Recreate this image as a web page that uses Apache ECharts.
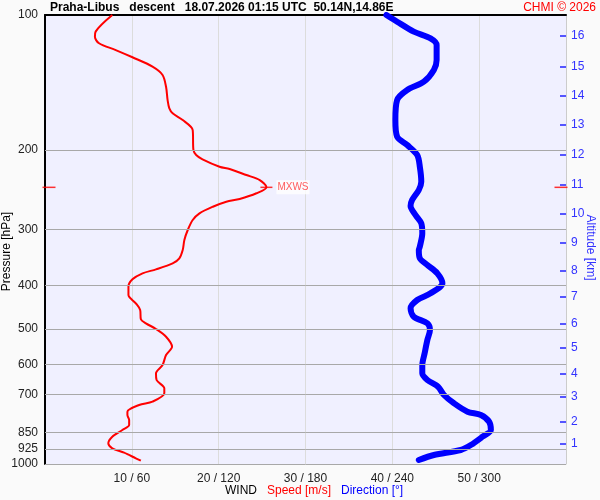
<!DOCTYPE html>
<html>
<head>
<meta charset="utf-8">
<script src="https://cdn.jsdelivr.net/npm/echarts@6/dist/echarts.min.js"></script>
<style>
html,body{margin:0;padding:0;background:#fafafa}
#chart{width:600px;height:500px}
</style>
</head>
<body>
<div id="chart"></div>
<script>
// pressure axis (hPa)
var pressureLabels = [100, 200, 300, 400, 500, 600, 700, 850, 925, 1000];
var pressureGrid = [200, 300, 400, 500, 600, 700, 850, 925, 1000];
// altitude ticks on the right: km and the pressure they sit at
var altitudeKm = [1, 2, 3, 4, 5, 6, 7, 8, 9, 10, 11, 12, 13, 14, 15, 16];
var altitudeP = [899.3, 803.4, 708.1, 628.1, 551.5, 486.0, 424.1, 371.1, 320.8, 277.5, 238.3, 205.0, 175.8, 151.5, 130.1, 111.2];
// wind speed [m/s] vs pressure [hPa]
var speedProfile = [
    [7.75,100],[5.83,108.9],[5.75,111.8],[6.22,115.6],[8.15,119.7],[10.07,124.2],[12.38,130.3],
    [13.54,136.0],[13.94,144.5],[14.12,154.7],[14.32,161.4],[14.70,165.5],[15.86,171.4],[17.01,180.4],
    [17.09,199.8],[17.41,205.0],[18.14,209.6],[20.10,217.7],[21.26,220.3],[23.19,227.2],[24.73,233.1],
    [25.51,241.9],[24.35,249.5],[22.42,256.9],[20.88,260.5],[19.33,267.3],[17.79,276.5],[17.01,286.2],
    [16.44,301.2],[16.05,317.0],[15.86,333.7],[15.47,348.2],[14.70,357.3],[12.78,368.5],[11.23,376.1],
    [10.07,387.9],[9.61,402.9],[9.61,420.4],[10.46,438.7],[10.96,453.9],[11.04,476.1],[11.62,486.0],
    [12.78,500.4],[13.94,520.6],[14.63,548.0],[13.94,571.8],[13.54,601.9],[12.78,628.0],[12.85,650.0],
    [13.74,678.3],[13.74,695.8],[12.38,726.4],[10.84,738.9],[9.49,764.7],[9.49,777.8],[9.69,798.0],
    [9.69,818.7],[8.91,840.1],[7.75,869.4],[7.29,899.3],[7.75,922.6],[9.11,943.6],[10.46,971.2],[11.04,983.3]
];
// wind direction [deg] vs pressure [hPa]
var directionProfile = [
    [235.9,100],[243.3,103.5],[254.8,108.9],[266.4,112.7],[270.6,116.6],[270.6,125.9],[268.7,132.6],
    [261.8,140.8],[250.3,146.9],[243.3,154.7],[242.1,171.4],[243.3,186.6],[250.3,194.8],[257.2,205.0],
    [259.0,217.7],[260.0,235.1],[258.3,245.3],[253.7,258.2],[252.6,266.4],[256.0,278.9],[260.0,291.0],
    [260.7,306.4],[259.0,328.1],[258.3,333.7],[259.0,348.2],[264.2,360.4],[271.1,376.1],[274.6,395.9],
    [266.4,416.8],[257.2,431.3],[252.6,450.1],[254.8,469.8],[264.2,486.0],[266.0,502.9],[264.2,529.5],
    [262.3,567.0],[260.7,601.9],[260.7,628.1],[264.2,650.0],[271.6,672.6],[275.7,702.1],[282.6,732.5],
    [291.9,764.7],[301.2,777.8],[306.9,805.1],[308.1,840.1],[302.3,869.4],[294.2,907.3],[287.3,930.7],
    [268.7,955.0],[258.3,979.7]
];
// maximum wind: speed, pressure
var mxws = [25.5, 242];
var speedRange = [0, 60];

var chart = echarts.init(document.getElementById('chart'));

function pAxis(extra) {
    var base = {type: 'log', logBase: 10, min: 100, max: 1000, inverse: true, splitLine: {show: false}};
    for (var k in extra) base[k] = extra[k];
    return base;
}

var option = {
    animation: false,
    backgroundColor: '#fafafa',
    textStyle: {fontFamily: 'Liberation Sans'},
    title: [
        {
            text: 'Praha-Libus   descent   18.07.2026 01:15 UTC  50.14N,14.86E',
            left: 50, top: 2, padding: 0,
            textStyle: {fontSize: 12, fontWeight: 'bold', color: '#000'}
        },
        {
            text: 'CHMI \u00a9 2026',
            right: 4, top: 2, padding: 0,
            textStyle: {fontSize: 12, fontWeight: 'normal', color: '#f00'}
        },
        {
            text: '{w|WIND}   {s|Speed [m/s]}   {d|Direction [\u00b0]}',
            left: 225, top: 485, padding: 0,
            textStyle: {
                fontSize: 12, fontWeight: 'normal',
                rich: {
                    w: {color: '#000', fontSize: 12},
                    s: {color: '#f00', fontSize: 12},
                    d: {color: '#00f', fontSize: 12}
                }
            }
        }
    ],
    grid: {
        left: 45, right: 34, top: 15, bottom: 36,
        outerBoundsMode: 'none', containLabel: false,
        show: true, backgroundColor: '#f0f0ff', borderWidth: 0
    },
    xAxis: [
        {
            type: 'value', min: speedRange[0], max: speedRange[1], interval: 10, position: 'bottom',
            axisLine: {show: false}, axisTick: {show: false},
            axisLabel: {
                margin: 9, color: '#222', fontSize: 12,
                formatter: function (v) { return (v == 0 || v == 60) ? '' : v + ' / ' + v * 6; }
            },
            splitLine: {lineStyle: {color: '#dcdcdc'}}
        },
        {
            type: 'value', min: 0, max: 360, position: 'top',
            axisLine: {show: true, onZero: false, lineStyle: {color: '#000', width: 2}},
            axisTick: {show: false}, axisLabel: {show: false}, splitLine: {show: false}
        }
    ],
    yAxis: [
        pAxis({
            position: 'left',
            name: 'Pressure [hPa]', nameLocation: 'middle', nameGap: 32, nameMoveOverlap: false,
            nameTextStyle: {fontSize: 12, color: '#000', padding: [0, 24, 0, 0]},
            axisLine: {show: true, onZero: false, lineStyle: {color: '#000', width: 2}},
            axisTick: {show: false},
            axisLabel: {
                customValues: pressureLabels, margin: 7, color: '#222', fontSize: 12,
                formatter: function (v) { return String(Math.round(v)); }
            }
        }),
        pAxis({
            position: 'right',
            name: 'Altitude [km]', nameLocation: 'middle', nameRotate: -90, nameGap: 18, nameMoveOverlap: false,
            nameTextStyle: {fontSize: 12, color: '#33f', padding: [0, 0, 0, 16]},
            axisLine: {show: true, onZero: false, lineStyle: {color: '#ccc', width: 1}},
            axisTick: {show: true, inside: true, length: 6, customValues: altitudeP, lineStyle: {color: '#22f', width: 1.5}},
            axisLabel: {
                customValues: altitudeP, margin: 5, color: '#33f', fontSize: 12,
                formatter: function (v) {
                    var best = 0;
                    for (var i = 1; i < altitudeP.length; i++)
                        if (Math.abs(altitudeP[i] - v) < Math.abs(altitudeP[best] - v)) best = i;
                    return altitudeKm[best];
                }
            }
        })
    ],
    series: [
        {
            name: 'grid', type: 'line', xAxisIndex: 0, yAxisIndex: 0, data: [], z: 1,
            markLine: {
                silent: true, symbol: 'none', animation: false,
                label: {show: false},
                lineStyle: {color: '#a8a8a8', width: 1, type: 'solid'},
                data: pressureGrid.map(function (p) { return {yAxis: p}; })
            }
        },
        {
            name: 'Direction', type: 'line', xAxisIndex: 1, yAxisIndex: 0,
            data: directionProfile, showSymbol: false, smooth: 0.3, z: 2,
            lineStyle: {color: '#00f', width: 6, cap: 'round'}
        },
        {
            name: 'Speed', type: 'line', xAxisIndex: 0, yAxisIndex: 0,
            data: speedProfile, showSymbol: false, smooth: 0.3, z: 3,
            lineStyle: {color: '#f00', width: 2}
        },
        {
            // MXWS level marks on both frame edges
            name: 'MXWS level', type: 'scatter', xAxisIndex: 0, yAxisIndex: 0, z: 4, clip: false,
            symbol: 'rect', symbolSize: [13, 1.5], itemStyle: {color: '#f00'},
            data: [
                {value: [speedRange[0], mxws[1]], symbolOffset: [4, 0]},
                {value: [speedRange[1], mxws[1]], symbolOffset: [-5, 0]}
            ]
        },
        {
            name: 'MXWS', type: 'scatter', xAxisIndex: 0, yAxisIndex: 0, z: 4,
            data: [mxws], symbol: 'rect', symbolSize: [12, 1.5],
            itemStyle: {color: '#f00'},
            label: {
                show: true, position: 'right', distance: 4, formatter: 'MXWS',
                color: '#f33', fontSize: 10, backgroundColor: '#fff', padding: [2, 1]
            }
        }
    ]
};
chart.setOption(option);
</script>
</body>
</html>
